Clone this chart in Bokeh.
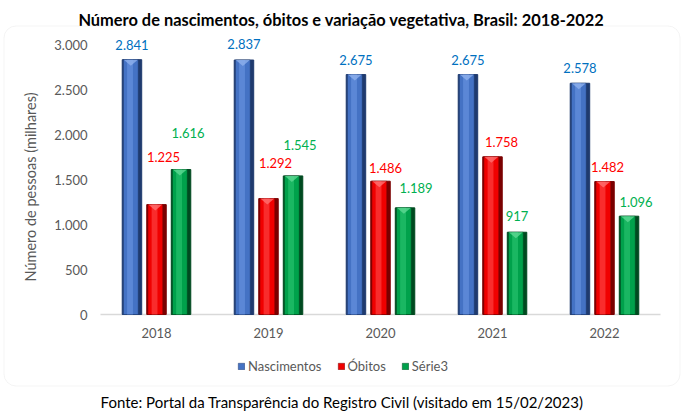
import math
from bokeh.plotting import figure
from bokeh.models import ColumnDataSource, Range1d, Legend, LegendItem, BoxAnnotation
from bokeh.core.properties import value
from bokeh.embed import file_html
from bokeh.resources import INLINE

# dados (milhares de pessoas)
anos = ["2018", "2019", "2020", "2021", "2022"]
nascimentos = [2841, 2837, 2675, 2675, 2578]
obitos = [1225, 1292, 1486, 1758, 1482]
serie3 = [1616, 1545, 1189, 917, 1096]
y_ticks = [0, 500, 1000, 1500, 2000, 2500, 3000]
y_tick_labels = ["0", "500", "1.000", "1.500", "2.000", "2.500", "3.000"]
nomes = ["Nascimentos", "Óbitos", "Série3"]

titulo = "Número de nascimentos, óbitos e variação vegetativa, Brasil: 2018-2022"
eixo_y = "Número de pessoas (milhares)"
fonte = "Fonte: Portal da Transparência do Registro Civil (visitado em 15/02/2023)"

# deslocamento manual dos rótulos (px), como no gráfico original
label_dx = [[0, 0, 0, 0, 0], [7, 7, 5, 9, 3], [7, 7, 11, 0, 7]]
label_dy = [[15, 16, 15, 15, 15], [48, 36, 13, 15, 15], [37, 31, 20, 16, 14]]

FONT = value("Lato")
GRAY = "#595959"

# geometria da página (px)
W, H = 683, 413
PX_X = 112.0     # largura de uma categoria
X0 = 156.0       # centro da primeira categoria
PX_Y = 0.0897    # px por milhar
Y0 = 314.0       # linha de base


def sx(px):
    return (px - X0) / PX_X


def sy(py):
    return (Y0 - py) / PX_Y


def fmt(v):
    return f"{v:,}".replace(",", ".")


xs = list(range(len(anos)))

p = figure(width=W, height=H, x_range=Range1d(sx(0), sx(W)), y_range=Range1d(sy(H), sy(0)),
           x_axis_location=None, y_axis_location=None, min_border=0,
           output_backend="svg", toolbar_location=None)
p.grid.visible = False
p.outline_line_color = None

# moldura arredondada
p.add_layout(BoxAnnotation(left=sx(3.5), right=sx(679.5), top=sy(25.5), bottom=sy(385.5),
                           fill_alpha=0, line_color="#D9D9D9", line_width=1,
                           border_radius=12))

# título e fonte
p.text(x=[sx(341)], y=[sy(18.5)], text=[titulo], text_align="center",
       text_baseline="alphabetic", text_font=FONT, text_font_style="bold",
       text_font_size="16.4px", text_color="black")
p.text(x=[sx(341.5)], y=[sy(401)], text=[fonte], text_align="center",
       text_baseline="alphabetic", text_font=FONT, text_font_size="15px",
       text_color="black")

# eixo y
p.text(x=[sx(87)] * len(y_ticks), y=y_ticks, text=y_tick_labels, text_align="right",
       text_baseline="middle", text_font=FONT, text_font_size="13px", text_color=GRAY)
p.text(x=[sx(29.5)], y=[sy(186.5)], text=[eixo_y], angle=math.pi / 2,
       text_align="center", text_baseline="middle", text_font=FONT,
       text_font_size="14.5px", text_color=GRAY)

# eixo x
p.segment(x0=[sx(100)], x1=[sx(660)], y0=[0], y1=[0], line_color="#D9D9D9", line_width=1.5)
p.text(x=xs, y=[0] * len(xs), text=anos, y_offset=18, text_align="center",
       text_baseline="middle", text_font=FONT, text_font_size="13px", text_color=GRAY)

series = [
    (nascimentos, -0.219, "#1F3A6E", "#4472C4", "#6A96E2", "#8FB0EC", "#0070C0"),
    (obitos, 0.0, "#7A0000", "#F00000", "#FF4A4A", "#FF7070", "#FF0000"),
    (serie3, 0.219, "#004A20", "#00A14B", "#2CC671", "#5ED894", "#00B050"),
]
w = 0.174
chev = 6 / PX_Y   # altura do chanfro no topo
items = []
for i, (vals, off, edge, body, light, bevel, lab) in enumerate(series):
    cx = [x + off for x in xs]
    src = ColumnDataSource(dict(
        x=cx, v=vals, txt=[fmt(v) for v in vals],
        dx=label_dx[i], dy=[-d for d in label_dy[i]],
    ))
    p.vbar(x="x", top="v", width=w, source=src, fill_color=edge, line_color=edge, line_width=1)
    src_b = ColumnDataSource(dict(x=[x - w * 0.06 for x in cx], v=vals))
    r = p.vbar(x="x", top="v", width=w * 0.76, source=src_b, fill_color=body,
               line_color=edge, line_width=0.5)
    src_l = ColumnDataSource(dict(x=[x - w * 0.1 for x in cx], v=vals))
    p.vbar(x="x", top="v", width=w * 0.3, source=src_l, fill_color=light, fill_alpha=0.6,
           line_color=None)
    p.patches(xs=[[x - w * 0.42, x + w * 0.3, x - w * 0.06] for x in cx],
              ys=[[v, v, v - chev] for v in vals],
              fill_color=bevel, fill_alpha=0.8, line_color=None)
    p.text(x="x", y="v", text="txt", source=src, x_offset="dx", y_offset="dy",
           text_align="center", text_baseline="middle", text_font=FONT,
           text_font_size="13px", text_color=lab)
    items.append(LegendItem(label=nomes[i], renderers=[r]))

legend = Legend(items=items, location=(237, 39), orientation="horizontal",
                glyph_width=8, glyph_height=8, label_standoff=3, spacing=15,
                padding=0, margin=0, label_height=14,
                label_text_font="Lato", label_text_font_size="13px",
                label_text_color=GRAY, border_line_color=None,
                background_fill_alpha=0)
p.add_layout(legend, "center")

open("out.html", "w").write(file_html(p, INLINE))
